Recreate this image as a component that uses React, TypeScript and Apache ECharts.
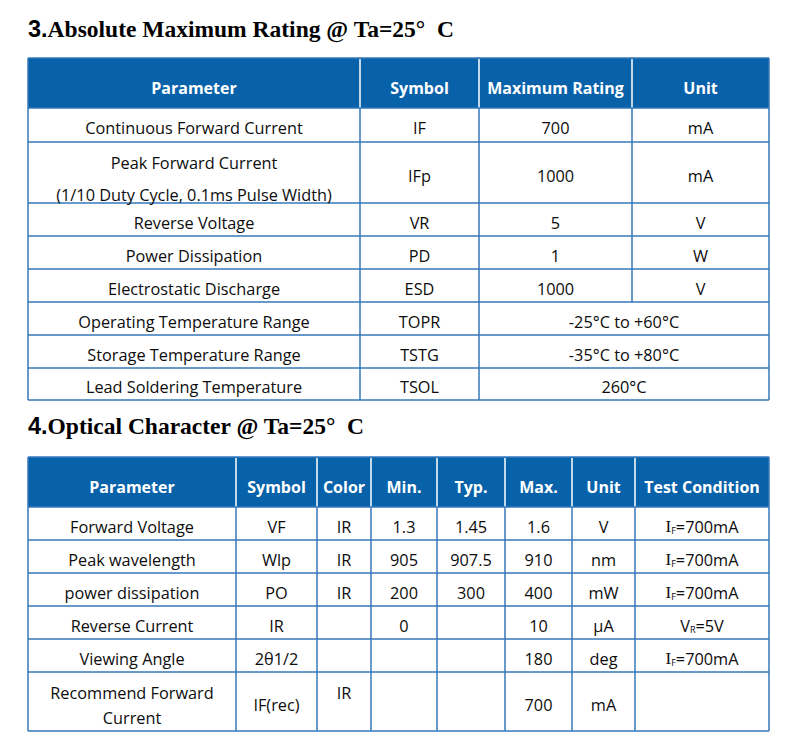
import React, { useEffect, useRef } from "react";
import * as echarts from "echarts";

// ---------- DATA ----------
const TITLE1_NUM = "3.";
const TITLE1_TEXT = "Absolute Maximum Rating @ Ta=25°  C";
const TITLE2_NUM = "4.";
const TITLE2_TEXT = "Optical Character @ Ta=25°  C";

const T1_HEADERS = ["Parameter", "Symbol", "Maximum Rating", "Unit"];
const T1_PARAMS = [
  "Continuous Forward Current",
  "Peak Forward Current\n(1/10 Duty Cycle, 0.1ms Pulse Width)",
  "Reverse Voltage",
  "Power Dissipation",
  "Electrostatic Discharge",
  "Operating Temperature Range",
  "Storage Temperature Range",
  "Lead Soldering Temperature",
];
const T1_SYMBOLS = ["IF", "IFp", "VR", "PD", "ESD", "TOPR", "TSTG", "TSOL"];
const T1_RATINGS = ["700", "1000", "5", "1", "1000", "-25°C to +60°C", "-35°C to +80°C", "260°C"];
const T1_UNITS = ["mA", "mA", "V", "W", "V", null, null, null]; // null = merged with rating

const T2_HEADERS = ["Parameter", "Symbol", "Color", "Min.", "Typ.", "Max.", "Unit", "Test Condition"];
const T2_PARAMS = [
  "Forward Voltage",
  "Peak wavelength",
  "power dissipation",
  "Reverse Current",
  "Viewing Angle",
  "Recommend Forward\nCurrent",
];
const T2_SYMBOLS = ["VF", "Wlp", "PO", "IR", "2θ1/2", "IF(rec)"];
const T2_COLORS = ["IR", "IR", "IR", "", "", "IR"];
const T2_MIN = ["1.3", "905", "200", "0", "", ""];
const T2_TYP = ["1.45", "907.5", "300", "", "", ""];
const T2_MAX = ["1.6", "910", "400", "10", "180", "700"];
const T2_UNIT = ["V", "nm", "mW", "μA", "deg", "mA"];
// test condition: [main letter, subscript, rest]
const T2_COND: ([string, string, string] | null)[] = [
  ["I", "F", "=700mA"],
  ["I", "F", "=700mA"],
  ["I", "F", "=700mA"],
  ["V", "R", "=5V"],
  ["I", "F", "=700mA"],
  null,
];

// ---------- LAYOUT ----------
const LEFT = 28;
const RIGHT = 769;
const T1_COLS = [LEFT, 360, 479, 632, RIGHT];
const T1_ROWS = [58, 108, 142, 203, 236, 269, 302, 335, 368, 400];
const T2_COLS = [LEFT, 236, 317, 371, 437, 505, 572, 635, RIGHT];
const T2_ROWS = [457, 507, 540, 573, 606, 639, 672, 731];

const HEADER_BG = "#0862aa";
const BORDER = "#3579b8";
const TEXT = "#0d0d0d";
const BODY_FONT = "'Open Sans', sans-serif";
const BODY_SIZE = 16.3;
const HEAD_SIZE = 16;

function txt(x: number, y: number, s: string, opts: any = {}) {
  return {
    type: "text",
    x,
    y,
    silent: true,
    style: {
      text: s,
      fill: opts.fill || TEXT,
      fontFamily: opts.fontFamily || BODY_FONT,
      fontSize: opts.fontSize || BODY_SIZE,
      fontWeight: opts.fontWeight || "normal",
      align: opts.align || "center",
      verticalAlign: "middle",
      ...(opts.extra || {}),
    },
  };
}

function line(x1: number, y1: number, x2: number, y2: number, color: string, w = 1.5) {
  return {
    type: "line",
    silent: true,
    shape: { x1, y1, x2, y2 },
    style: { stroke: color, lineWidth: w },
  };
}

function buildGraphics() {
  const g: any[] = [];

  // Titles
  const titleRich = {
    n: { fontFamily: "'Liberation Sans', Arial, sans-serif", fontWeight: "bold", fontSize: 23.5, fill: "#000" },
    t: { fontFamily: "'Liberation Serif', 'Times New Roman', serif", fontWeight: "bold", fontSize: 23.5, fill: "#000" },
  };
  g.push(txt(LEFT, 29, `{n|${TITLE1_NUM}}{t|${TITLE1_TEXT}}`, { align: "left", extra: { rich: titleRich } }));
  g.push(txt(LEFT, 426, `{n|${TITLE2_NUM}}{t|${TITLE2_TEXT}}`, { align: "left", extra: { rich: titleRich } }));

  // ---- Table 1 ----
  g.push({
    type: "rect",
    silent: true,
    shape: { x: LEFT, y: T1_ROWS[0], width: RIGHT - LEFT, height: T1_ROWS[1] - T1_ROWS[0] },
    style: { fill: HEADER_BG },
  });
  for (let c = 1; c < T1_COLS.length - 1; c++) {
    g.push(line(T1_COLS[c], T1_ROWS[0] + 1, T1_COLS[c], T1_ROWS[1], "#ffffff", 1.5));
  }
  T1_HEADERS.forEach((h, c) => {
    g.push(
      txt((T1_COLS[c] + T1_COLS[c + 1]) / 2, (T1_ROWS[0] + T1_ROWS[1]) / 2 + 5, h, {
        fill: "#fff",
        fontWeight: "bold",
        fontSize: HEAD_SIZE,
      })
    );
  });
  for (let r = 1; r < T1_ROWS.length; r++) {
    g.push(line(LEFT, T1_ROWS[r], RIGHT, T1_ROWS[r], BORDER));
  }
  g.push(line(LEFT, T1_ROWS[0], RIGHT, T1_ROWS[0], BORDER));
  g.push(line(LEFT, T1_ROWS[0], LEFT, T1_ROWS[T1_ROWS.length - 1], BORDER));
  g.push(line(RIGHT, T1_ROWS[0], RIGHT, T1_ROWS[T1_ROWS.length - 1], BORDER));
  for (let r = 0; r < T1_PARAMS.length; r++) {
    const y1 = T1_ROWS[r + 1];
    const y2 = T1_ROWS[r + 2];
    for (let c = 1; c < T1_COLS.length - 1; c++) {
      if (c === 3 && T1_UNITS[r] === null) continue;
      g.push(line(T1_COLS[c], y1, T1_COLS[c], y2, BORDER));
    }
  }
  for (let r = 0; r < T1_PARAMS.length; r++) {
    const y1 = T1_ROWS[r + 1];
    const y2 = T1_ROWS[r + 2];
    const cy = (y1 + y2) / 2 + 3;
    const cx = (c: number) => (T1_COLS[c] + T1_COLS[c + 1]) / 2;
    const parts = T1_PARAMS[r].split("\n");
    if (parts.length > 1) {
      g.push(txt(cx(0), y1 + 21, parts[0]));
      g.push(txt(cx(0), y2 - 8, parts[1]));
    } else {
      g.push(txt(cx(0), cy, parts[0]));
    }
    g.push(txt(cx(1), cy, T1_SYMBOLS[r]));
    if (T1_UNITS[r] === null) {
      g.push(txt((T1_COLS[2] + T1_COLS[4]) / 2, cy, T1_RATINGS[r]));
    } else {
      g.push(txt(cx(2), cy, T1_RATINGS[r]));
      g.push(txt(cx(3), cy, T1_UNITS[r] as string));
    }
  }

  // ---- Table 2 ----
  g.push({
    type: "rect",
    silent: true,
    shape: { x: LEFT, y: T2_ROWS[0], width: RIGHT - LEFT, height: T2_ROWS[1] - T2_ROWS[0] },
    style: { fill: HEADER_BG },
  });
  for (let c = 1; c < T2_COLS.length - 1; c++) {
    g.push(line(T2_COLS[c], T2_ROWS[0] + 1, T2_COLS[c], T2_ROWS[1], "#ffffff", 1.5));
  }
  T2_HEADERS.forEach((h, c) => {
    g.push(
      txt((T2_COLS[c] + T2_COLS[c + 1]) / 2, (T2_ROWS[0] + T2_ROWS[1]) / 2 + 5, h, {
        fill: "#fff",
        fontWeight: "bold",
        fontSize: HEAD_SIZE,
      })
    );
  });
  for (let r = 0; r < T2_ROWS.length; r++) {
    g.push(line(LEFT, T2_ROWS[r], RIGHT, T2_ROWS[r], BORDER));
  }
  g.push(line(LEFT, T2_ROWS[0], LEFT, T2_ROWS[T2_ROWS.length - 1], BORDER));
  g.push(line(RIGHT, T2_ROWS[0], RIGHT, T2_ROWS[T2_ROWS.length - 1], BORDER));
  for (let c = 1; c < T2_COLS.length - 1; c++) {
    g.push(line(T2_COLS[c], T2_ROWS[1], T2_COLS[c], T2_ROWS[T2_ROWS.length - 1], BORDER));
  }
  const condRich = {
    i: { fontFamily: "'Liberation Serif', serif", fontSize: 17, fill: TEXT, lineHeight: 20, verticalAlign: "bottom" },
    s: { fontFamily: BODY_FONT, fontSize: 9, fill: TEXT, lineHeight: 20, verticalAlign: "bottom" },
    v: { fontFamily: BODY_FONT, fontSize: BODY_SIZE, fill: TEXT, lineHeight: 20, verticalAlign: "bottom" },
    n: { fontFamily: BODY_FONT, fontSize: BODY_SIZE, fill: TEXT, lineHeight: 20, verticalAlign: "bottom" },
  };
  for (let r = 0; r < T2_PARAMS.length; r++) {
    const y1 = T2_ROWS[r + 1];
    const y2 = T2_ROWS[r + 2];
    const tall = y2 - y1 > 40;
    const cy = (y1 + y2) / 2 + 3;
    const cx = (c: number) => (T2_COLS[c] + T2_COLS[c + 1]) / 2;
    const parts = T2_PARAMS[r].split("\n");
    if (parts.length > 1) {
      g.push(txt(cx(0), y1 + 21, parts[0]));
      g.push(txt(cx(0), y1 + 46, parts[1]));
    } else {
      g.push(txt(cx(0), cy, parts[0]));
    }
    g.push(txt(cx(1), cy, T2_SYMBOLS[r]));
    if (T2_COLORS[r]) g.push(txt(cx(2), tall ? y1 + 21 : cy, T2_COLORS[r]));
    if (T2_MIN[r]) g.push(txt(cx(3), cy, T2_MIN[r]));
    if (T2_TYP[r]) g.push(txt(cx(4), cy, T2_TYP[r]));
    if (T2_MAX[r]) g.push(txt(cx(5), cy, T2_MAX[r]));
    if (T2_UNIT[r]) g.push(txt(cx(6), cy, T2_UNIT[r]));
    const cond = T2_COND[r];
    if (cond) {
      const mainTag = cond[0] === "I" ? "i" : "v";
      g.push(
        txt(cx(7), cy - 2, `{${mainTag}|${cond[0]}}{s|${cond[1]}}{n|${cond[2]}}`, {
          extra: { rich: condRich },
        })
      );
    }
  }
  return g;
}

export default function App() {
  const ref = useRef<HTMLDivElement>(null);
  useEffect(() => {
    document.body.style.margin = "0";
    if (!ref.current) return;
    const chart = echarts.init(ref.current, undefined, { renderer: "svg" });
    chart.setOption({
      animation: false,
      backgroundColor: "#ffffff",
      graphic: { elements: buildGraphics() },
    });
    return () => chart.dispose();
  }, []);
  return <div ref={ref} style={{ width: 800, height: 746 }} />;
}
